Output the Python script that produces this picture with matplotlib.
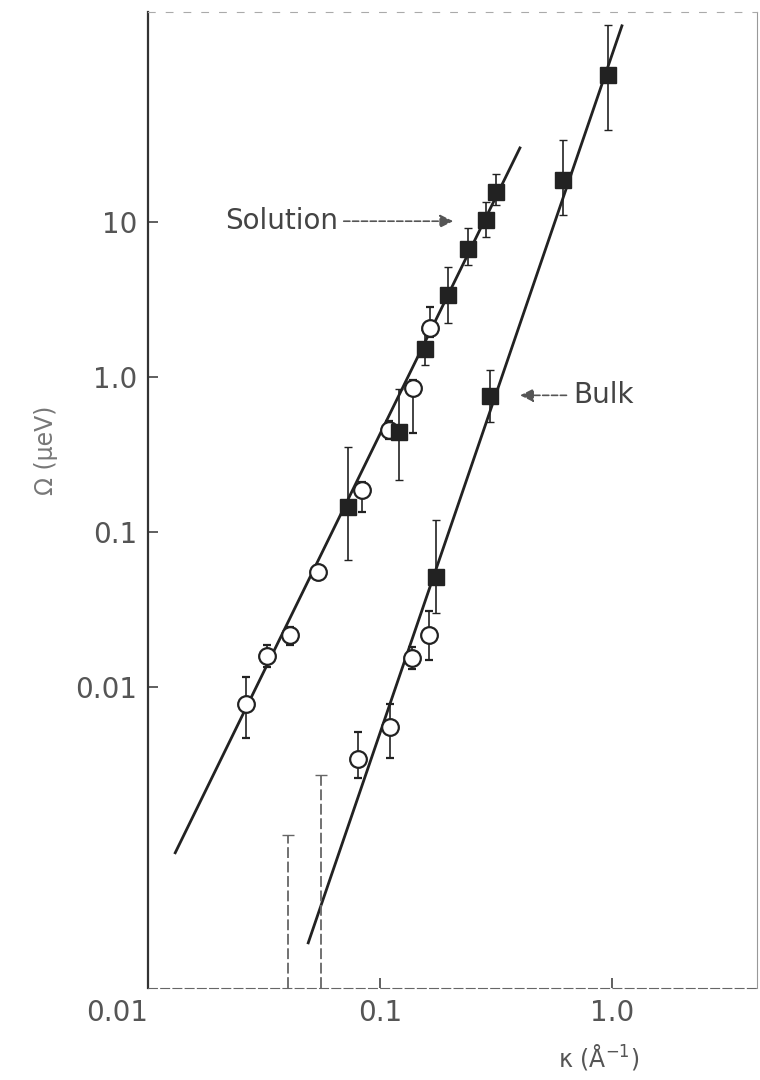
import matplotlib.pyplot as plt
import numpy as np

# solution: filled squares
sol_sq_k = [0.073, 0.121, 0.156, 0.196, 0.239, 0.286, 0.316]
sol_sq_w = [0.145, 0.44, 1.52, 3.38, 6.7, 10.3, 15.6]
sol_sq_lo = [0.066, 0.216, 1.2, 2.23, 5.3, 8.0, 12.9]
sol_sq_hi = [0.353, 0.84, 2.0, 5.13, 9.15, 13.5, 20.4]

# solution: open circles
sol_c_k = [0.0264, 0.0326, 0.041, 0.054, 0.0835, 0.109, 0.139, 0.164]
sol_c_w = [0.0078, 0.0158, 0.0216, 0.0552, 0.187, 0.455, 0.85, 2.07]
sol_c_lo = [0.0047, 0.0135, 0.0185, 0.050, 0.134, 0.40, 0.435, 1.8]
sol_c_hi = [0.0115, 0.0185, 0.0245, 0.060, 0.21, 0.52, 0.95, 2.83]

# bulk: filled squares
blk_sq_k = [0.174, 0.298, 0.615, 0.96]
blk_sq_w = [0.051, 0.754, 18.7, 88.8]
blk_sq_lo = [0.03, 0.51, 11.1, 39.3]
blk_sq_hi = [0.119, 1.11, 33.8, 187]

# bulk: open circles
blk_c_k = [0.080, 0.110, 0.137, 0.163]
blk_c_w = [0.00343, 0.0055, 0.0154, 0.0216]
blk_c_lo = [0.0026, 0.0035, 0.0130, 0.0149]
blk_c_hi = [0.0051, 0.0077, 0.0180, 0.031]

# error bars of points below the axis
low_k = [0.040, 0.0557]
low_hi = [0.00111, 0.0027]

# fitted lines (end points)
sol_line_k = [0.0131, 0.40]
sol_line_w = [8.5e-4, 30]
blk_line_k = [0.049, 1.10]
blk_line_w = [2.23e-4, 184]

ink = '#222222'
ymin, ymax = 1.14e-4, 226

fig = plt.figure(figsize=(7.6, 10.8), dpi=100)
ax = fig.add_axes([148 / 760, 92 / 1080, 609 / 760, 976 / 1080])
ax.set_xscale('log')
ax.set_yscale('log')
ax.set_xlim(0.01, 4.2)
ax.set_ylim(ymin, ymax)

ax.plot(sol_line_k, sol_line_w, color=ink, lw=2)
ax.plot(blk_line_k, blk_line_w, color=ink, lw=2)


def errs(w, lo, hi):
    w = np.array(w)
    return [w - np.array(lo), np.array(hi) - w]


ax.errorbar(sol_c_k, sol_c_w, yerr=errs(sol_c_w, sol_c_lo, sol_c_hi), fmt='o',
            ms=12, mfc='white', mec=ink, mew=1.6, ecolor=ink, elinewidth=1.2, capsize=3)
ax.errorbar(blk_c_k, blk_c_w, yerr=errs(blk_c_w, blk_c_lo, blk_c_hi), fmt='o',
            ms=12, mfc='white', mec=ink, mew=1.6, ecolor=ink, elinewidth=1.2, capsize=3)
ax.errorbar(sol_sq_k, sol_sq_w, yerr=errs(sol_sq_w, sol_sq_lo, sol_sq_hi), fmt='s',
            ms=12, mfc=ink, mec=ink, ecolor=ink, elinewidth=1.2, capsize=3)
ax.errorbar(blk_sq_k, blk_sq_w, yerr=errs(blk_sq_w, blk_sq_lo, blk_sq_hi), fmt='s',
            ms=12, mfc=ink, mec=ink, ecolor=ink, elinewidth=1.2, capsize=3)

for k, hi in zip(low_k, low_hi):
    ax.vlines(k, ymin, hi, colors='#666666', lw=1.3, linestyles=(0, (6, 2)))
    ax.plot(k, hi, marker='_', ms=8, color='#666666')

ax.annotate('Solution', xy=(0.212, 10.1), xytext=(0.0215, 10.1),
            fontsize=20, color='#444444', va='center', ha='left',
            arrowprops=dict(arrowstyle='-|>', color='#555555', lw=1.2, ls='--',
                            shrinkA=2, shrinkB=2, relpos=(1.0, 0.5)))
ax.annotate('Bulk', xy=(0.39, 0.76), xytext=(0.68, 0.76),
            fontsize=20, color='#444444', va='center', ha='left',
            arrowprops=dict(arrowstyle='-|>', color='#555555', lw=1.2, ls='--',
                            shrinkA=3, shrinkB=2, relpos=(0.0, 0.5)))

ax.set_xticks([0.01, 0.1, 1.0])
ax.set_xticklabels(['0.01', '0.1', '1.0'])
ax.set_yticks([0.01, 0.1, 1.0, 10])
ax.set_yticklabels(['0.01', '0.1', '1.0', '10'])
ax.minorticks_off()
ax.tick_params(direction='in', length=7, width=1.2, colors='#444444',
               labelsize=20, labelcolor='#555555', pad=8)
ax.get_xticklabels()[0].set_ha('right')

ax.set_xlabel('κ (Å$^{-1}$)', fontsize=17, color='#555555')
ax.xaxis.set_label_coords(0.74, -0.055)
ax.set_ylabel('Ω (μeV)', fontsize=17, color='#777777')
ax.yaxis.set_label_coords(-0.148, 0.551)

ax.spines['left'].set_color('#333333')
ax.spines['left'].set_linewidth(1.6)
ax.spines['bottom'].set_color('#666666')
ax.spines['bottom'].set_linestyle((0, (8, 3)))
ax.spines['top'].set_color('#aaaaaa')
ax.spines['top'].set_linestyle((0, (6, 10)))
ax.spines['right'].set_color('#999999')

fig.savefig('out.png', dpi=100)
